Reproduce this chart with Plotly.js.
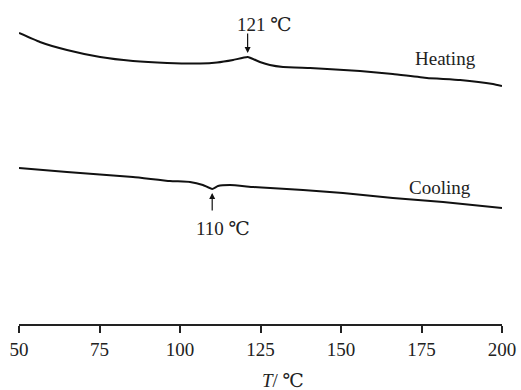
<!DOCTYPE html>
<html>
<head>
<meta charset="utf-8">
<script src="https://cdn.plot.ly/plotly-3.0.1.min.js"></script>
<style>html,body{margin:0;padding:0;background:#fff;}#chart{width:521px;height:390px;}</style>
</head>
<body>
<div id="chart"></div>
<script>
// Heating curve (temperature °C, heat flow a.u.)
const heatT = [50, 56.5, 64.9, 75.2, 85.4, 96.0, 106.2, 111.5, 116.5, 121, 124.8, 127.9, 132, 140.4, 145.7, 155.9, 166.1, 176.7, 187.0, 197.2, 200];
const heatY = [29.1, 28.2, 27.4, 26.7, 26.3, 26.1, 26.05, 26.15, 26.4, 26.7, 26.2, 25.9, 25.7, 25.6, 25.5, 25.3, 25.0, 24.6, 24.4, 24.0, 23.8];
// Cooling curve
const coolT = [50, 64.9, 85.4, 96.9, 103.1, 107.1, 110, 111.8, 115.5, 122.7, 128, 138.2, 150.6, 166.1, 181.7, 200];
const coolY = [15.6, 15.2, 14.7, 14.3, 14.2, 13.9, 13.5, 13.8, 13.9, 13.7, 13.6, 13.4, 13.1, 12.6, 12.2, 11.6];
const tickVals = [50, 75, 100, 125, 150, 175, 200];
const tickText = ["50", "75", "100", "125", "150", "175", "200"];
const peakHeat = 121, peakCool = 110;

const FONT = "'Liberation Serif', 'Times New Roman', 'DejaVu Serif', serif";

const traces = [
  {x: heatT, y: heatY, mode: 'lines', line: {color: '#111', width: 2, shape: 'spline', smoothing: 0.4}, showlegend: false, hoverinfo: 'skip'},
  {x: coolT, y: coolY, mode: 'lines', line: {color: '#111', width: 2, shape: 'spline', smoothing: 0.4}, showlegend: false, hoverinfo: 'skip'}
];

const layout = {
  width: 521, height: 390,
  margin: {l: 19, r: 19, t: 10, b: 66},
  paper_bgcolor: '#fff', plot_bgcolor: '#fff',
  font: {family: FONT, size: 19, color: '#222'},
  xaxis: {
    range: [50, 200], tickvals: tickVals, ticktext: tickText,
    showline: true, linecolor: '#222', linewidth: 2,
    ticks: 'outside', ticklen: 7, tickwidth: 2, tickcolor: '#222',
    showgrid: false, zeroline: false,
    tickfont: {family: FONT, size: 19, color: '#222'}
  },
  yaxis: {range: [0, 31.4], visible: false, showgrid: false, zeroline: false},
  annotations: [
    {x: peakHeat, y: 27.1, ax: peakHeat, ay: 29.2, axref: 'x', ayref: 'y', xref: 'x', yref: 'y', text: '', showarrow: true, arrowhead: 2, arrowsize: 1, arrowwidth: 1.2, arrowcolor: '#111'},
    {x: 126.1, y: 30.0, xref: 'x', yref: 'y', text: '121 ℃', showarrow: false, font: {family: FONT, size: 19, color: '#222'}},
    {x: peakCool, y: 13.1, ax: peakCool, ay: 11.2, axref: 'x', ayref: 'y', xref: 'x', yref: 'y', text: '', showarrow: true, arrowhead: 2, arrowsize: 1, arrowwidth: 1.2, arrowcolor: '#111'},
    {x: 113.4, y: 9.6, xref: 'x', yref: 'y', text: '110 ℃', showarrow: false, font: {family: FONT, size: 19, color: '#222'}},
    {x: 182.6, y: 26.6, xref: 'x', yref: 'y', text: 'Heating', showarrow: false, font: {family: FONT, size: 19, color: '#222'}},
    {x: 180.7, y: 13.7, xref: 'x', yref: 'y', text: 'Cooling', showarrow: false, font: {family: FONT, size: 19, color: '#222'}},
    {x: 0.5, y: 0, xref: 'paper', yref: 'paper', xshift: 22, yshift: -56, yanchor: 'middle', text: '<i>T</i>/ ℃', showarrow: false, font: {family: FONT, size: 19, color: '#222'}}
  ]
};

Plotly.newPlot('chart', traces, layout, {displayModeBar: false, staticPlot: true});
</script>
</body>
</html>
